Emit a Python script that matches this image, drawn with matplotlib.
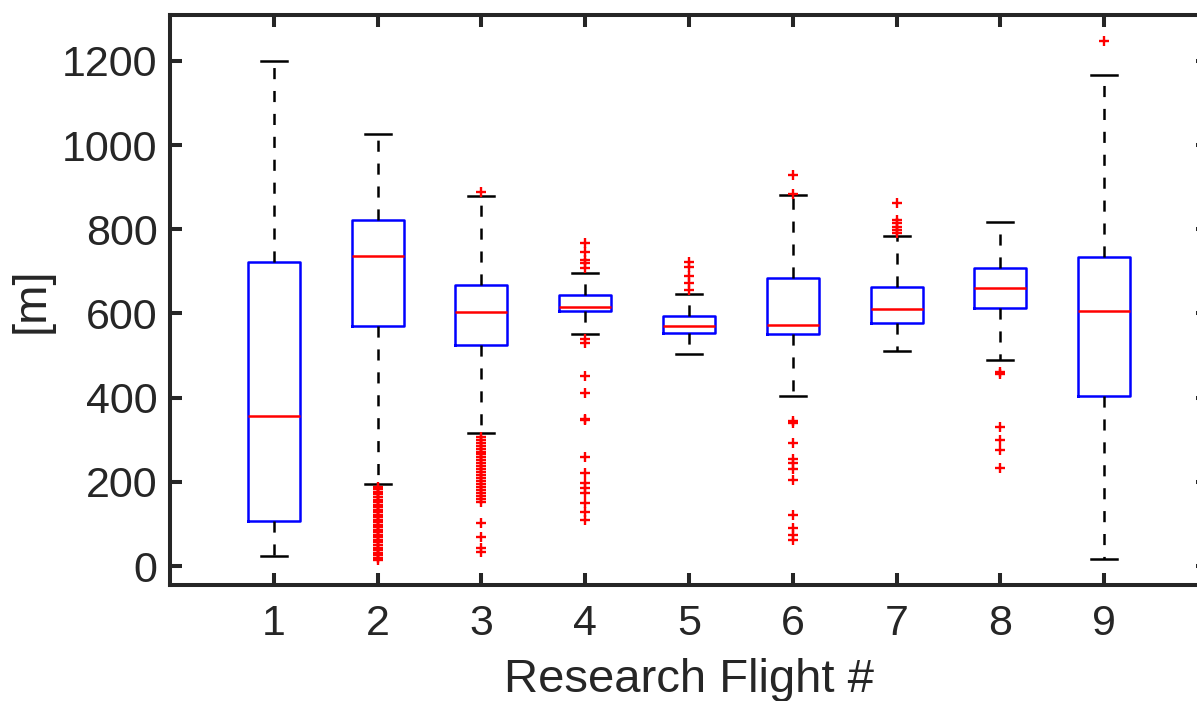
import matplotlib
matplotlib.use("Agg")
import matplotlib.pyplot as plt

plt.rcParams['font.family'] = ['Liberation Sans', 'DejaVu Sans']
plt.rcParams['lines.scale_dashes'] = False

# ---- data ----
flights = [1, 2, 3, 4, 5, 6, 7, 8, 9]
medians = [357, 737, 604, 615, 570, 573, 611, 660, 606]
q1 = [106, 570, 524, 606, 553, 551, 578, 612, 403]
q3 = [723, 822, 668, 644, 593, 685, 664, 708, 734]
whisker_low = [23, 194, 315, 551, 504, 403, 511, 489, 16]
whisker_high = [1200, 1027, 878, 696, 647, 882, 784, 818, 1167]
outliers_1 = []
outliers_2 = [188, 182, 176, 170, 164, 158, 152, 146, 140, 134, 128, 122, 116,
              110, 104, 98, 92, 86, 80, 74, 68, 62, 56, 50, 44, 38, 32, 26, 20, 14]
outliers_3 = [888, 307, 300, 293, 286, 279, 272, 265, 258, 251, 244, 237, 230,
              223, 216, 209, 202, 195, 188, 181, 174, 167, 160, 153, 102, 69, 42, 33]
outliers_4 = [767, 746, 727, 720, 708, 539, 529, 452, 411, 350, 346, 259, 222,
              198, 185, 173, 149, 128, 110]
outliers_5 = [723, 711, 688, 672, 656]
outliers_6 = [928, 883, 345, 340, 292, 255, 244, 231, 204, 122, 90, 74, 61]
outliers_7 = [863, 822, 814, 806, 798, 791]
outliers_8 = [462, 456, 331, 300, 276, 232]
outliers_9 = [1248]
outliers = [outliers_1, outliers_2, outliers_3, outliers_4, outliers_5,
            outliers_6, outliers_7, outliers_8, outliers_9]
y_ticks = [0, 200, 400, 600, 800, 1000, 1200]
x_label = "Research Flight #"
y_label = "[m]"

stats = []
for i in range(len(flights)):
    stats.append(dict(med=medians[i], q1=q1[i], q3=q3[i],
                      whislo=whisker_low[i], whishi=whisker_high[i],
                      fliers=outliers[i]))

W, H = 1197, 701
fig = plt.figure(figsize=(W / 100, H / 100), dpi=100)
ax = fig.add_axes([170 / W, 1 - 585 / H, (1208 - 170) / W, 570 / H])

txt = '#262626'
ax.bxp(stats, positions=flights, widths=0.5, showfliers=True,
       boxprops=dict(color='#0000ff', linewidth=1.8),
       medianprops=dict(color='#ff0000', linewidth=1.8),
       whiskerprops=dict(color='black', linewidth=1.8, linestyle=(0, (8, 8.5))),
       capprops=dict(color='black', linewidth=1.8),
       capwidths=0.25,
       flierprops=dict(marker='+', markeredgecolor='#ff0000', markersize=7,
                       markeredgewidth=1.7, linestyle='none'))

ax.set_xlim(0, 10)
ax.set_ylim(-45, 1309)
ax.set_xticks(flights)
ax.set_xticklabels([str(f) for f in flights])
ax.set_yticks(y_ticks)
for s in ax.spines.values():
    s.set_linewidth(2.9)
    s.set_color(txt)
ax.tick_params(direction='in', length=8.6, width=2.9, color=txt,
               labelsize=31, labelcolor=txt, top=True, right=True)
ax.tick_params(axis='x', pad=14)
ax.tick_params(axis='y', pad=9)
ax.set_xlabel(x_label, fontsize=34, color=txt, labelpad=9.5)
ax.set_ylabel(y_label, fontsize=34, color=txt, labelpad=6)

fig.savefig("out.png", dpi=100)
